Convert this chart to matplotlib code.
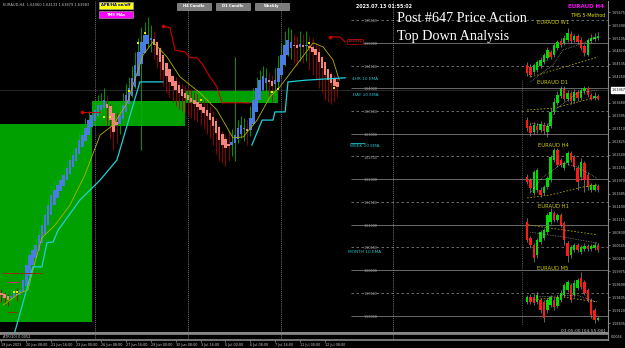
import numpy as np
import matplotlib
matplotlib.use("Agg")
import matplotlib.pyplot as plt
from matplotlib.patches import Rectangle
from matplotlib.transforms import blended_transform_factory

# ---------------- main H4 chart data (EURAUD, Heikin-Ashi style) ----------------
ha_close = [1.5945, 1.5939, 1.5934, 1.5943, 1.5952, 1.5945, 1.5956, 1.5978, 1.6011, 1.6033,
            1.6044, 1.6055, 1.6077, 1.6099, 1.6121, 1.6143, 1.6165, 1.6176, 1.6187, 1.6198,
            1.6209, 1.6225, 1.6242, 1.6253, 1.6269, 1.6286, 1.6297, 1.6313, 1.6330, 1.6341,
            1.6352, 1.6363, 1.6363, 1.6374, 1.6357, 1.6330, 1.6304, 1.6319, 1.6341, 1.6363,
            1.6385, 1.6401, 1.6423, 1.6451, 1.6480, 1.6502, 1.6517, 1.6517, 1.6511, 1.6495,
            1.6473, 1.6458, 1.6440, 1.6427, 1.6414, 1.6405, 1.6396, 1.6390, 1.6383, 1.6379,
            1.6374, 1.6370, 1.6365, 1.6359, 1.6352, 1.6346, 1.6339, 1.6330, 1.6317, 1.6302,
            1.6286, 1.6275, 1.6269, 1.6273, 1.6282, 1.6297, 1.6313, 1.6319, 1.6313, 1.6306,
            1.6335, 1.6374, 1.6401, 1.6418, 1.6427, 1.6423, 1.6414, 1.6405, 1.6418, 1.6445,
            1.6473, 1.6495, 1.6506, 1.6502, 1.6493, 1.6489, 1.6497, 1.6491, 1.6495, 1.6489,
            1.6480, 1.6473, 1.6458, 1.6445, 1.6429, 1.6418, 1.6412, 1.6405, 1.6403]
wick_high = [1.5958, 1.5952, 1.5948, 1.5958, 1.5966, 1.5960, 1.5972, 1.5995, 1.6030, 1.6050,
             1.6060, 1.6072, 1.6095, 1.6118, 1.6140, 1.6160, 1.6185, 1.6195, 1.6205, 1.6215,
             1.6230, 1.6245, 1.6262, 1.6272, 1.6290, 1.6305, 1.6318, 1.6335, 1.6350, 1.6362,
             1.6375, 1.6385, 1.6390, 1.6400, 1.6385, 1.6365, 1.6335, 1.6345, 1.6365, 1.6390,
             1.6410, 1.6425, 1.6450, 1.6480, 1.6510, 1.6535, 1.6545, 1.6557, 1.6540, 1.6525,
             1.6505, 1.6490, 1.6470, 1.6455, 1.6440, 1.6430, 1.6425, 1.6415, 1.6410, 1.6405,
             1.6400, 1.6398, 1.6392, 1.6388, 1.6380, 1.6375, 1.6368, 1.6360, 1.6350, 1.6335,
             1.6320, 1.6305, 1.6300, 1.6305, 1.6310, 1.6469, 1.6330, 1.6340, 1.6335, 1.6330,
             1.6360, 1.6400, 1.6425, 1.6440, 1.6450, 1.6445, 1.6435, 1.6430, 1.6445, 1.6470,
             1.6500, 1.6525, 1.6535, 1.6530, 1.6520, 1.6515, 1.6525, 1.6520, 1.6525, 1.6515,
             1.6510, 1.6500, 1.6490, 1.6470, 1.6455, 1.6440, 1.6435, 1.6430, 1.6425]
wick_low = [1.5930, 1.5925, 1.5920, 1.5930, 1.5938, 1.5932, 1.5936, 1.5950, 1.5970, 1.6000,
            1.6025, 1.6035, 1.6050, 1.6070, 1.6090, 1.6110, 1.6130, 1.6150, 1.6160, 1.6175,
            1.6185, 1.6195, 1.6210, 1.6225, 1.6240, 1.6255, 1.6270, 1.6280, 1.6300, 1.6315,
            1.6325, 1.6335, 1.6330, 1.6340, 1.6320, 1.6290, 1.6265, 1.6280, 1.6300, 1.6320,
            1.6345, 1.6360, 1.6380, 1.6400, 1.6430, 1.6264, 1.6480, 1.6490, 1.6480, 1.6465,
            1.6445, 1.6420, 1.6405, 1.6390, 1.6380, 1.6370, 1.6360, 1.6355, 1.6350, 1.6345,
            1.6340, 1.6335, 1.6330, 1.6325, 1.6318, 1.6310, 1.6300, 1.6290, 1.6275, 1.6255,
            1.6240, 1.6235, 1.6230, 1.6240, 1.6250, 1.6240, 1.6280, 1.6290, 1.6285, 1.6275,
            1.6295, 1.6320, 1.6360, 1.6385, 1.6395, 1.6390, 1.6380, 1.6370, 1.6385, 1.6400,
            1.6425, 1.6450, 1.6470, 1.6465, 1.6455, 1.6450, 1.6460, 1.6455, 1.6460, 1.6440,
            1.6430, 1.6420, 1.6400, 1.6390, 1.6375, 1.6370, 1.6365, 1.6370, 1.6380]
ha_first_open = 1.5950

time_label_bars = [0, 8, 16, 24, 32, 40, 48, 56, 64, 72, 80, 88, 96, 104]
time_labels = ["19 Jun 2023", "20 Jun 08:00", "21 Jun 16:00", "23 Jun 00:00",
               "26 Jun 08:00", "27 Jun 16:00", "29 Jun 00:00", "30 Jun 08:00",
               "3 Jul 16:00", "5 Jul 00:00", "6 Jul 08:00", "7 Jul 16:00",
               "11 Jul 00:00", "12 Jul 08:00"]
separator_bars = [30, 60, 90, 126]

zone_start = [-0.5, 29.1, 59.0]
zone_end = [29.1, 59.0, 88.9]
zone_low = [1.5886, 1.6317, 1.6368]
zone_high = [1.6321, 1.6372, 1.6394]

cyan_bars = [4.3, 10.1, 13.0, 14.6, 16.6, 18.2, 25.2, 31.7, 37.1, 44.5, 51.9, np.nan,
             80.5, 83.8, 87.3, 87.9, 91.2, 92.1, 98.2, 110.5]
cyan_prices = [1.5864, 1.6007, 1.6007, 1.6060, 1.6062, 1.6088, 1.6154, 1.6198, 1.6242, 1.6414,
               1.6414, np.nan, 1.6275, 1.6330, 1.6330, 1.6348, 1.6348, 1.6414, 1.6418, 1.6423]
olive_bars = [0.5, 5.9, 8.5, 10.8, 13.0, 17.2, 22.0, 26.8, 31.7, 35.9, 40.4, 45.5, 48.7, 53.2,
              57.4, 63.8, 69.3, 74.4, 77.7, 82.2, 86.3, 89.5, 96.0, 100.2, 103.4, 106.6, 108.6]
olive_prices = [1.5923, 1.5950, 1.5956, 1.6018, 1.6071, 1.6099, 1.6143, 1.6209, 1.6297, 1.6319,
                1.6368, 1.6473, 1.6502, 1.6469, 1.6425, 1.6390, 1.6352, 1.6291, 1.6293, 1.6330,
                1.6381, 1.6403, 1.6462, 1.6500, 1.6491, 1.6462, 1.6418]
red_bars = [51.9, 54.2, 55.8, 59.0, 60.6, 62.9, 64.8, 67.0, 69.3, 70.9, 79.9, np.nan,
            105.6, 108.8, 110.5]
red_prices = [1.6537, 1.6533, 1.6484, 1.6480, 1.6467, 1.6467, 1.6451, 1.6425, 1.6403, 1.6368,
              1.6368, np.nan, 1.6513, 1.6513, 1.6502]
red_dot_bars = [51.9, 105.6, 25.9]
red_dot_prices = [1.6537, 1.6513, 1.6348]
old_level_start = [25.9, 0.2, 1.8, 1.8]
old_level_end = [31.7, 13.0, 5.9, 5.0]
old_level_price = [1.6348, 1.5994, 1.5974, 1.5908]
old_level_color = ["#d00000", "#8b3010", "#c03060", "#8b3010"]
dot_bars = [4, 5, 33, 35, 41, 44, 46, 64, 87, 89, 99, 107]
dot_prices = [1.5952, 1.5952, 1.6337, 1.6337, 1.6394, 1.6500, 1.6522, 1.6374, 1.6392, 1.6398,
              1.6500, 1.6401]

grid_levels = [1.590, 1.595, 1.600, 1.605, 1.610, 1.615, 1.620, 1.625, 1.630, 1.635,
               1.640, 1.645, 1.650, 1.655]
axis_tick_start = 1.58835
axis_tick_step = 0.00285
bid_price = 1.63967

ema_label_text = ["4HR 10 EMA", "DAY 10 EMA", "WEEK 10 EMA", "MONTH 10 EMA"]
ema_label_bar = [112.7, 113.0, 112.0, 111.4]
ema_label_price = [1.6420, 1.6385, 1.6273, 1.6040]
red_label_text = "1.65292"
red_label_bar = 111.3
red_label_price = 1.6503

# ---------------- mini charts (top-down panel) ----------------
w1_open = [1.6071, 1.6037, 1.5952, 1.5986, 1.6054, 1.6122, 1.6190, 1.6292, 1.6241, 1.6360, 1.6479,
           1.6445, 1.6496, 1.6598, 1.6496, 1.6564, 1.6496, 1.6394, 1.6241, 1.6479, 1.6513, 1.6530]
w1_close = [1.5935, 1.5901, 1.6071, 1.6122, 1.6156, 1.6241, 1.6326, 1.6207, 1.6411, 1.6462, 1.6411,
            1.6530, 1.6615, 1.6479, 1.6564, 1.6462, 1.6360, 1.6275, 1.6496, 1.6530, 1.6547, 1.6564]
w1_high = [1.6122, 1.6088, 1.6105, 1.6156, 1.6207, 1.6275, 1.6377, 1.6326, 1.6445, 1.6496, 1.6530,
           1.6581, 1.6700, 1.6649, 1.6598, 1.6598, 1.6547, 1.6428, 1.6530, 1.6598, 1.6615, 1.6632]
w1_low = [1.5884, 1.5867, 1.5918, 1.5952, 1.6020, 1.6088, 1.6156, 1.6173, 1.6207, 1.6326, 1.6377,
          1.6411, 1.6462, 1.6445, 1.6462, 1.6428, 1.6326, 1.6224, 1.6224, 1.6445, 1.6479, 1.6496]
w1_slow_x, w1_slow_y = [1, 21], [1.5867, 1.6207]
w1_fast_x, w1_fast_y = [1, 7.7, 10.7, 16.6, 20.7], [1.5782, 1.6071, 1.6326, 1.6445, 1.6530]

d1_open = [1.6088, 1.6008, 1.5928, 1.6008, 1.5955, 1.6021, 1.5928, 1.6008, 1.6194, 1.6314, 1.6407,
           1.6500, 1.6367, 1.6447, 1.6340, 1.6460, 1.6380, 1.6473, 1.6513, 1.6420, 1.6380, 1.6407]
d1_close = [1.5981, 1.5915, 1.6021, 1.5955, 1.6035, 1.5941, 1.6008, 1.6194, 1.6327, 1.6420, 1.6500,
            1.6367, 1.6447, 1.6340, 1.6460, 1.6380, 1.6487, 1.6513, 1.6420, 1.6367, 1.6407, 1.6367]
d1_high = [1.6128, 1.6048, 1.6061, 1.6048, 1.6075, 1.6061, 1.6048, 1.6247, 1.6380, 1.6473, 1.6540,
           1.6540, 1.6487, 1.6473, 1.6500, 1.6487, 1.6513, 1.6540, 1.6540, 1.6447, 1.6460, 1.6434]
d1_low = [1.5941, 1.5875, 1.5902, 1.5915, 1.5928, 1.5902, 1.5862, 1.5981, 1.6168, 1.6287, 1.6380,
          1.6340, 1.6340, 1.6301, 1.6314, 1.6340, 1.6354, 1.6434, 1.6394, 1.6354, 1.6354, 1.6354]
d1_slow_x, d1_slow_y = [0, 8, 21], [1.6221, 1.6247, 1.6394]
d1_fast_x, d1_fast_y = [1, 6, 9, 15, 21], [1.6048, 1.6008, 1.6250, 1.6447, 1.6487]

h4_open = [1.6368, 1.6350, 1.6272, 1.6290, 1.6290, 1.6272, 1.6308, 1.6350, 1.6470, 1.6530, 1.6470,
           1.6422, 1.6452, 1.6512, 1.6488, 1.6422, 1.6368, 1.6452, 1.6380, 1.6290, 1.6290, 1.6314]
h4_close = [1.6338, 1.6302, 1.6398, 1.6410, 1.6260, 1.6308, 1.6362, 1.6488, 1.6530, 1.6440, 1.6440,
            1.6452, 1.6512, 1.6470, 1.6428, 1.6338, 1.6458, 1.6350, 1.6308, 1.6320, 1.6320, 1.6290]
h4_high = [1.6386, 1.6362, 1.6410, 1.6422, 1.6308, 1.6320, 1.6374, 1.6500, 1.6542, 1.6542, 1.6482,
           1.6464, 1.6524, 1.6524, 1.6500, 1.6440, 1.6482, 1.6464, 1.6398, 1.6332, 1.6332, 1.6326]
h4_low = [1.6326, 1.6278, 1.6260, 1.6278, 1.6248, 1.6260, 1.6296, 1.6338, 1.6458, 1.6428, 1.6428,
          1.6410, 1.6440, 1.6458, 1.6410, 1.6290, 1.6350, 1.6278, 1.6290, 1.6278, 1.6284, 1.6278]
h4_slow_x, h4_slow_y = [0, 6.8, 16.6, 20.7], [1.6242, 1.6260, 1.6308, 1.6320]
h4_fast_x, h4_fast_y = [1, 4.7, 10.7, 14.8, 20.7], [1.6272, 1.6368, 1.6452, 1.6428, 1.6362]

h1_open = [1.6452, 1.6416, 1.6400, 1.6377, 1.6406, 1.6416, 1.6429, 1.6452, 1.6473, 1.6457, 1.6469,
           1.6450, 1.6404, 1.6377, 1.6388, 1.6400, 1.6383, 1.6390, 1.6397, 1.6390, 1.6393, 1.6400]
h1_close = [1.6411, 1.6400, 1.6370, 1.6411, 1.6429, 1.6434, 1.6469, 1.6475, 1.6457, 1.6469, 1.6446,
            1.6411, 1.6374, 1.6395, 1.6400, 1.6388, 1.6395, 1.6397, 1.6390, 1.6397, 1.6400, 1.6388]
h1_high = [1.6462, 1.6420, 1.6404, 1.6416, 1.6434, 1.6439, 1.6473, 1.6485, 1.6478, 1.6473, 1.6473,
           1.6455, 1.6409, 1.6400, 1.6404, 1.6404, 1.6400, 1.6404, 1.6402, 1.6402, 1.6406, 1.6404]
h1_low = [1.6406, 1.6393, 1.6360, 1.6370, 1.6402, 1.6411, 1.6425, 1.6448, 1.6452, 1.6452, 1.6441,
          1.6400, 1.6360, 1.6370, 1.6383, 1.6383, 1.6379, 1.6386, 1.6386, 1.6386, 1.6388, 1.6383]
h1_slow_x, h1_slow_y = [0.3, 20.7], [1.6446, 1.6423]
h1_fast_x, h1_fast_y = [1, 6, 10.7, 20.7], [1.6429, 1.6423, 1.6418, 1.6404]

m5_open = [1.64012, 1.64057, 1.64057, 1.64012, 1.64030, 1.64012, 1.63940, 1.63985, 1.64030, 1.63976,
           1.64030, 1.64075, 1.64120, 1.64165, 1.64075, 1.64138, 1.64228, 1.64192, 1.64120, 1.64030,
           1.63940, 1.63850]
m5_close = [1.64057, 1.64012, 1.64003, 1.64075, 1.63940, 1.63868, 1.64030, 1.64057, 1.63967, 1.64057,
            1.64093, 1.64165, 1.64192, 1.64030, 1.64183, 1.64210, 1.64147, 1.64093, 1.64030, 1.63895,
            1.63850, 1.63868]
m5_high = [1.64075, 1.64084, 1.64093, 1.64102, 1.64048, 1.64030, 1.64048, 1.64075, 1.64048, 1.64075,
           1.64120, 1.64183, 1.64210, 1.64183, 1.64210, 1.64228, 1.64282, 1.64210, 1.64138, 1.64048,
           1.63958, 1.63886]
m5_low = [1.63994, 1.63994, 1.63985, 1.63994, 1.63913, 1.63832, 1.63913, 1.63967, 1.63940, 1.63958,
          1.64012, 1.64057, 1.64102, 1.64012, 1.64057, 1.64120, 1.64129, 1.64075, 1.64012, 1.63868,
          1.63823, 1.63841]
m5_slow_x, m5_slow_y = [1, 10.7, 20.7], [1.64030, 1.64057, 1.64012]
m5_fast_x, m5_fast_y = [3, 14.8, 20.7], [1.64057, 1.64075, 1.64012]

# ---------------- layout helpers ----------------
W, H = 625, 348
def fx(px):
    return px / W
def fy(py):
    return 1 - py / H

fig = plt.figure(figsize=(W / 100, H / 100), dpi=100, facecolor="black")

ax = fig.add_axes([0, fy(333), fx(608), fy(1) - fy(333)])
ax.set_facecolor("black")
ax.set_xlim(-0.48, 195.0)
ax.set_ylim(1.58616, 1.65920)
for s in ["left", "top"]:
    ax.spines[s].set_visible(False)
ax.spines["right"].set_color("#8a8a8a")
ax.spines["right"].set_linewidth(0.8)
ax.spines["bottom"].set_color("#8a8a8a")
ax.spines["bottom"].set_linewidth(1.4)
ax.set_xticks([])
ax.yaxis.tick_right()
ticks = np.arange(axis_tick_start, 1.6590, axis_tick_step)
ticks = [t for t in ticks if abs(t - bid_price) > 0.0012]
ax.set_yticks(ticks)
ax.set_yticklabels([f"{t:.5f}" for t in ticks])
ax.tick_params(axis="y", labelsize=2.4, colors="#c8c8c8", length=1.5, width=0.4, pad=1)

# zones
for xs, xe, lo, hi in zip(zone_start, zone_end, zone_low, zone_high):
    ax.add_patch(Rectangle((xs, lo), xe - xs, hi - lo, facecolor="#00a000", edgecolor="none", zorder=1))

# separators
for b in separator_bars:
    ax.axvline(b, color="#9a9a9a", lw=0.5, ls=(0, (1.5, 1.5)), zorder=2)

# bid line
ax.axhline(bid_price, color="#3a3a3a", lw=0.5, zorder=1.5)

# main grid levels (right part)
for lv in grid_levels:
    solid = abs(round(lv * 1000) % 10) < 1e-9
    ax.hlines(lv, 112.5, 195, color="#7a7a7a", lw=0.6,
              linestyles="solid" if solid else (0, (3, 3)), zorder=1.5)
    ax.text(116.3, lv + 0.0002, f"{lv:.5f}", color="#a8a8a8", fontsize=2.4, va="top", zorder=6)

# candles
n = len(ha_close)
bars = np.arange(n)
close = np.array(ha_close)
ha_open = np.empty(n)
ha_open[0] = ha_first_open
for i in range(1, n):
    ha_open[i] = (ha_open[i - 1] + close[i - 1]) / 2
bull = close >= ha_open
ax.vlines(bars, wick_low, wick_high, colors=["#00b000" if b else "#a80000" for b in bull],
          lw=0.6, zorder=3)
body_lo = np.minimum(ha_open, close)
body_h = np.maximum(np.abs(close - ha_open), 0.00025)
ax.bar(bars, body_h, bottom=body_lo, width=0.78,
       color=["#4a7ce0" if b else "#f4847c" for b in bull], lw=0, zorder=4)

# indicator lines
ax.plot(olive_bars, olive_prices, color="#b4b000", lw=0.6, zorder=5)
ax.plot(cyan_bars, cyan_prices, color="#22d0d8", lw=0.9, zorder=5)
ax.plot(red_bars, red_prices, color="#d00000", lw=0.8, zorder=5)
ax.plot(red_dot_bars, red_dot_prices, "o", color="#d00000", ms=1.6, zorder=5)
for s0, s1, p, c in zip(old_level_start, old_level_end, old_level_price, old_level_color):
    ax.hlines(p, s0, s1, color=c, lw=0.7, zorder=5)
ax.plot(dot_bars, dot_prices, "s", color="#e8e800", ms=1.5, mew=0, zorder=6)

# labels on chart
for t, b, p in zip(ema_label_text, ema_label_bar, ema_label_price):
    ax.text(b, p, t, color="#22c0c8", fontsize=3.1, va="center", zorder=7)
ax.hlines(ema_label_price[2] + 0.0007, ema_label_bar[2], ema_label_bar[2] + 5, color="#22c0c8", lw=0.6)
ax.text(red_label_bar, red_label_price, red_label_text, color="#ff3030", fontsize=2.6, va="center",
        bbox=dict(boxstyle="square,pad=0.2", fc="black", ec="#c00000", lw=0.5), zorder=7)
bt = blended_transform_factory(ax.transAxes, ax.transData)
ax.text(1.006, bid_price, f"{bid_price:.5f}", transform=bt, fontsize=2.4, color="black", va="center",
        bbox=dict(boxstyle="square,pad=0.25", fc="white", ec="white"), clip_on=False, zorder=8)

# ---------------- ATR sub-window ----------------
atr = fig.add_axes([0, fy(340), fx(608), fy(334) - fy(340)])
atr.set_facecolor("black")
atr.set_xlim(ax.get_xlim())
atr.set_yticks([])
atr.spines["left"].set_visible(False)
for s in ["top", "bottom"]:
    atr.spines[s].set_color("#8a8a8a")
    atr.spines[s].set_linewidth(1.2)
atr.spines["right"].set_color("#8a8a8a")
atr.spines["right"].set_linewidth(0.8)
for b in separator_bars:
    atr.axvline(b, color="#9a9a9a", lw=0.5, ls=(0, (1.5, 1.5)))
atr.set_xticks(time_label_bars)
atr.set_xticklabels(time_labels)
atr.tick_params(axis="x", labelsize=2.4, colors="#c8c8c8", length=1.5, width=0.4, pad=0.8)
for lab in atr.get_xticklabels():
    lab.set_horizontalalignment("left")
atr.text(0.005, 0.5, "ATR(10) 0.0052", transform=atr.transAxes, fontsize=2.5, color="#c8c8c8", va="center")
fig.text(fx(611), fy(337), "0.0056", fontsize=2.4, color="#c8c8c8", va="center")

# ---------------- mini charts ----------------
def draw_mini(top, bottom, ylim, o, c, h, l, sx, sy, qx, qy, title, title_y, vline=True):
    m = fig.add_axes([fx(522), fy(bottom), fx(608) - fx(522), fy(top) - fy(bottom)])
    m.set_facecolor("none")
    m.set_xlim(-1.5, 24.0)
    m.set_ylim(*ylim)
    for s in m.spines.values():
        s.set_visible(False)
    m.set_xticks([])
    m.set_yticks([])
    o = np.array(o)
    c = np.array(c)
    xs = np.arange(len(o))
    up = c >= o
    m.vlines(xs, l, h, color="#a0a0a0", lw=0.45, zorder=2)
    m.bar(xs, np.maximum(np.abs(c - o), (ylim[1] - ylim[0]) * 0.006), bottom=np.minimum(o, c),
          width=0.72, color=["#00dc00" if u else "#ff1a1a" for u in up], lw=0, zorder=3)
    m.plot(sx, sy, color="#a8a000", lw=0.6, ls=(0, (2, 2)), zorder=4)
    m.plot(qx, qy, color="#d8d8d8", lw=0.5, ls=(0, (0.8, 1.6)), zorder=4)
    if vline:
        m.axvline(-1.4, color="#8a8a8a", lw=0.5, ls=(0, (1, 1.5)))
    m.text(0.36, (bottom - title_y) / (bottom - top), title, transform=m.transAxes, ha="center",
           va="center", color="#c8c800", fontsize=3.8)

draw_mini(14, 82, (1.5782, 1.6938), w1_open, w1_close, w1_high, w1_low,
          w1_slow_x, w1_slow_y, w1_fast_x, w1_fast_y, "EURAUD W1", 22, vline=False)
draw_mini(80, 140, (1.5822, 1.6620), d1_open, d1_close, d1_high, d1_low,
          d1_slow_x, d1_slow_y, d1_fast_x, d1_fast_y, "EURAUD D1", 83)
draw_mini(140, 203, (1.6212, 1.6590), h4_open, h4_close, h4_high, h4_low,
          h4_slow_x, h4_slow_y, h4_fast_x, h4_fast_y, "EURAUD H4", 145)
draw_mini(203, 265, (1.63535, 1.64961), h1_open, h1_close, h1_high, h1_low,
          h1_slow_x, h1_slow_y, h1_fast_x, h1_fast_y, "EURAUD H1", 207)
draw_mini(263, 326, (1.63796, 1.64363), m5_open, m5_close, m5_high, m5_low,
          m5_slow_x, m5_slow_y, m5_fast_x, m5_fast_y, "EURAUD M5", 269)

# ---------------- header texts & buttons ----------------
fig.text(fx(3), fy(5), "EURAUD,H4  1.64060 1.64133 1.63879 1.63983", fontsize=2.6, color="#c0c0c0", va="center")
fig.text(fx(356), fy(6), "2023.07.13 01:55:02", fontsize=3.4, color="white", weight="bold", va="center")
fig.text(fx(397), fy(22), "Post #647 Price Action", family="Liberation Serif", fontsize=10.2,
         color="white", va="baseline")
fig.text(fx(397), fy(40), "Top Down Analysis", family="Liberation Serif", fontsize=10.2,
         color="white", va="baseline")
fig.text(fx(604), fy(7), "EURAUD H4", fontsize=4.0, color="#ff00ff", weight="bold", ha="right", va="center")
fig.text(fx(605), fy(15.5), "TMS 5-Method", fontsize=3.4, color="#e0e000", ha="right", va="center")
fig.text(fx(605), fy(330), "03:05:00 [04:55:00]", fontsize=3.2, color="#c8c8c8", ha="right", va="center")

buttons = [("APB/HA on/off", 99, 2, 34, 7, "#ffff00", "#0000a0"),
           ("TMS MAs", 99, 11, 34, 7, "#ff00ff", "#ffffff"),
           ("H4 Candle", 177, 3, 34, 6.5, "#7c7c7c", "#ffffff"),
           ("D1 Candle", 216, 3, 34, 6.5, "#7c7c7c", "#ffffff"),
           ("Weekly", 255, 3, 34, 6.5, "#7c7c7c", "#ffffff")]
for label, bx, by, bw, bh, fc, tc in buttons:
    fig.add_artist(Rectangle((fx(bx), fy(by + bh)), bw / W, bh / H, transform=fig.transFigure,
                             facecolor=fc, edgecolor="#b0b0b0", lw=0.4))
    fig.text(fx(bx + bw / 2), fy(by + bh / 2), label, fontsize=2.7, color=tc, weight="bold",
             ha="center", va="center")

fig.savefig("out.png", dpi=100, facecolor="black")
